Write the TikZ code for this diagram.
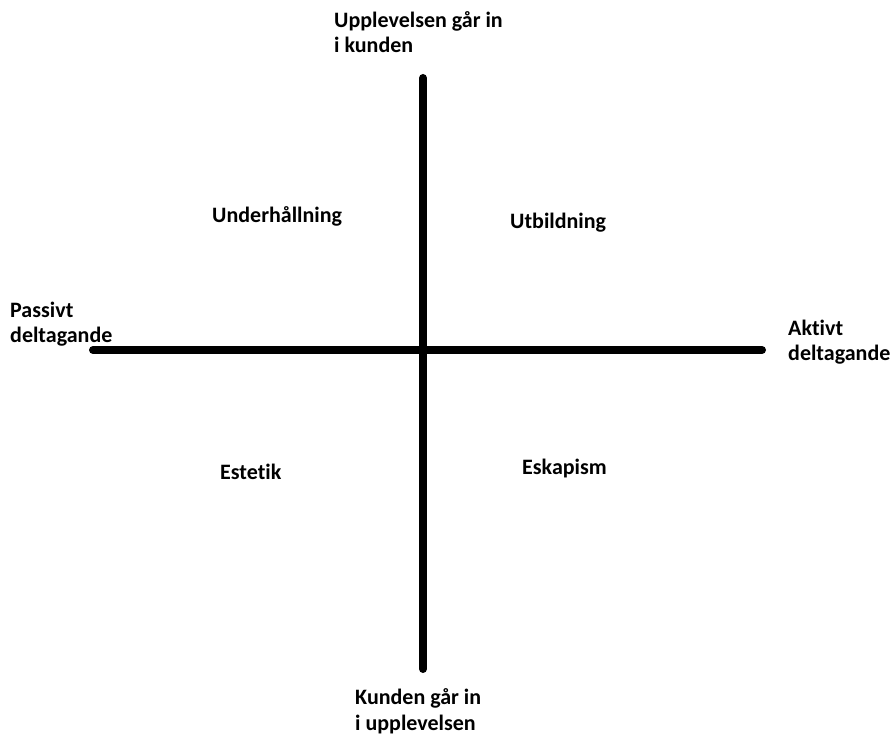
\documentclass[tikz,border=0pt]{standalone}
\usepackage{fontspec}
\setmainfont{Carlito}[Ligatures={NoCommon}]
\begin{document}
\begin{tikzpicture}[x=1pt,y=-1pt,
  axis/.style={line width=8pt,line cap=round},
  lbl/.style={font=\bfseries\fontsize{22}{25.5}\selectfont,inner sep=0pt,anchor=base west,align=left}]
\useasboundingbox (0,0) rectangle (895,735);
\coordinate (top) at (423,78);
\coordinate (bot) at (423,669);
\coordinate (left) at (93,350);
\coordinate (right) at (762,350);
\draw[axis] (top) -- (bot);
\draw[axis] (left) -- (right);
\node[lbl] (tl) at (334,53) {Upplevelsen går in\\i kunden};
\node[lbl] (bl) at (355,730) {Kunden går in\\i upplevelsen};
\node[lbl] (ll) at (10,343) {Passivt\\deltagande};
\node[lbl] (rl) at (788,361) {Aktivt\\deltagande};
\node[lbl] (q1) at (212,223) {Underhållning};
\node[lbl] (q2) at (510,229) {Utbildning};
\node[lbl] (q3) at (220,479) {Estetik};
\node[lbl] (q4) at (522,475) {Eskapism};
\end{tikzpicture}
\end{document}
